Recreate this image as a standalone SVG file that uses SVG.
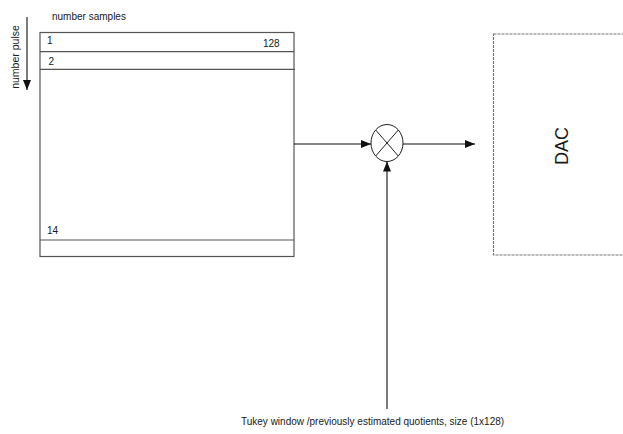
<svg xmlns="http://www.w3.org/2000/svg" width="623" height="434" viewBox="0 0 623 434">
<defs>
<style>
text{font-family:"Liberation Sans",Arial,sans-serif;fill:#1a1a1a;font-size:10px}
text.pulse{font-size:10.5px}
text.big{font-size:18px}
.box{fill:#fff;stroke:#555;stroke-width:1.2}
.sep{stroke:#555;stroke-width:1.2}
.conn{stroke:#111;stroke-width:1.1;fill:none}
.dac{fill:#fff;stroke:#777;stroke-width:1.2;stroke-dasharray:3 1}
</style>
<marker id="ah" viewBox="0 0 10 8" refX="10" refY="4" markerWidth="10" markerHeight="8" markerUnits="userSpaceOnUse" orient="auto">
<path d="M0,0 L10,4 L0,8 Z" fill="#111"/>
</marker>
</defs>
<rect width="623" height="434" fill="#fff"/>

<g id="labels">
<text x="52" y="20">number samples</text>
<text class="pulse" transform="translate(18.5,57) rotate(-90)" text-anchor="middle">number pulse</text>
</g>

<g id="matrix">
<rect class="box" x="40" y="32.5" width="254" height="224"/>
<line class="sep" x1="40" y1="51.7" x2="294" y2="51.7"/>
<line class="sep" x1="40" y1="69.3" x2="295" y2="69.3"/>
<line class="sep" x1="40" y1="240" x2="294" y2="240"/>
<text x="47" y="43.5">1</text>
<text x="263" y="46.5">128</text>
<text x="48.5" y="65">2</text>
<text x="47" y="234">14</text>
</g>

<g id="multiplier">
<ellipse cx="387" cy="143" rx="16" ry="18.5" fill="#fff" stroke="#222" stroke-width="1"/>
<line x1="375.7" y1="130" x2="398.3" y2="156" stroke="#222" stroke-width="1"/>
<line x1="398.3" y1="130" x2="375.7" y2="156" stroke="#222" stroke-width="1"/>
</g>

<g id="dac">
<rect class="dac" x="493.5" y="34" width="140" height="221"/>
<text class="big" transform="translate(568,146) rotate(-90)" text-anchor="middle">DAC</text>
</g>

<g id="window">
<text x="241" y="425">Tukey window /previously estimated quotients, size (1x128)</text>
</g>

<g id="connectors">
<line class="conn" x1="27" y1="17" x2="27" y2="90" marker-end="url(#ah)"/>
<line class="conn" x1="294" y1="144" x2="371" y2="144" marker-end="url(#ah)"/>
<line class="conn" x1="403" y1="144" x2="475" y2="144" marker-end="url(#ah)"/>
<line class="conn" x1="387" y1="409" x2="387" y2="161.5" marker-end="url(#ah)"/>
</g>
</svg>
